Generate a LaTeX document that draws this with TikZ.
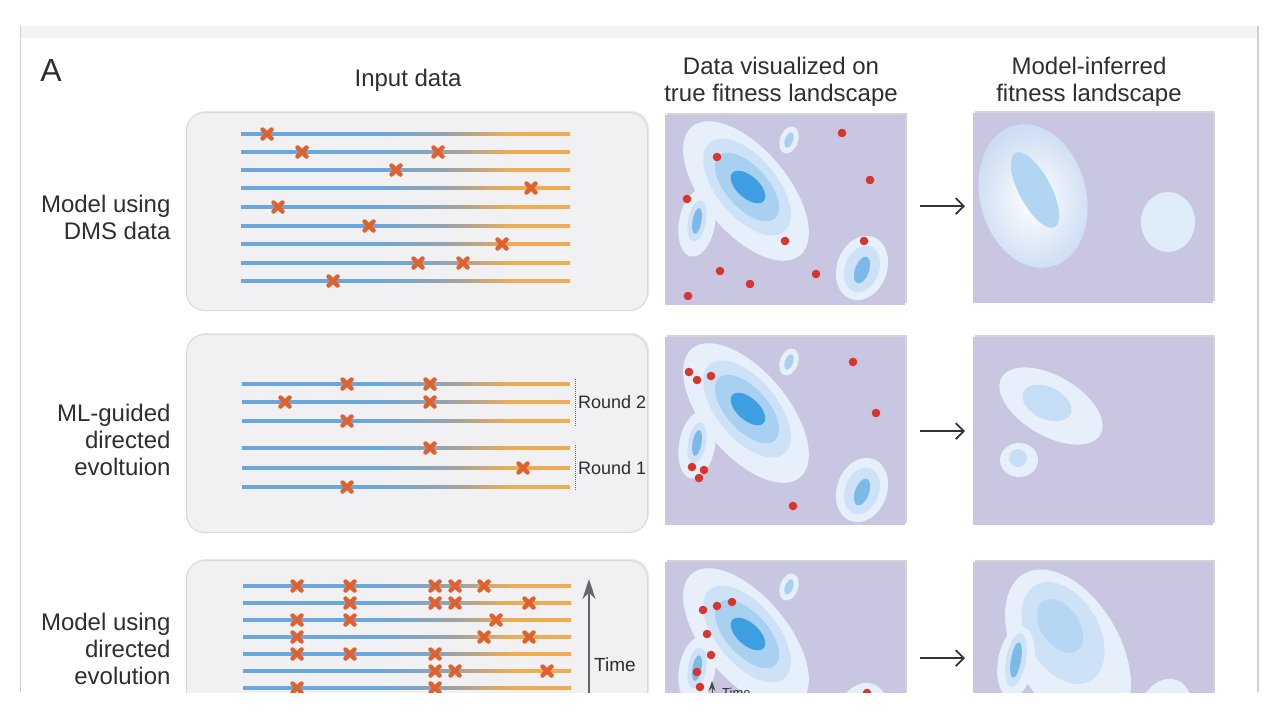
\documentclass[tikz,border=0pt]{standalone}
\usepackage{fontspec}
\setmainfont{Liberation Sans}
\usepackage{xcolor}
\usepackage{tikz}
\usetikzlibrary{arrows.meta, shadows}

\definecolor{inkgray}{HTML}{2E2E2E}
\definecolor{cardline}{HTML}{D0D0D0}
\definecolor{cardband}{HTML}{F3F3F3}
\definecolor{boxfill}{HTML}{F1F1F3}
\definecolor{lavender}{HTML}{C9C6E2}
\definecolor{seqblue}{HTML}{6AA7DC}
\definecolor{seqgray}{HTML}{9BA3A5}
\definecolor{seqorange}{HTML}{EEAD52}
\definecolor{mutred}{HTML}{E0602E}
\definecolor{dotred}{HTML}{D6362D}
\definecolor{hill0}{HTML}{E7F0FA}
\definecolor{hill1}{HTML}{CDE2F6}
\definecolor{hill2}{HTML}{A8D0F1}
\definecolor{hill3}{HTML}{3E9EE2}
\definecolor{hillcore}{HTML}{7DB9E8}

\pgfdeclarehorizontalshading{seqline}{100bp}{color(0bp)=(seqblue); color(25bp)=(seqblue); color(46bp)=(seqblue); color(57bp)=(seqgray); color(66bp)=(seqorange); color(75bp)=(seqorange); color(100bp)=(seqorange)}

\begin{document}
\begin{tikzpicture}[x=1pt, y=-1pt,
    inkfont/.style={font=\fontsize{24}{27}\selectfont, text=inkgray},
    title/.style={inkfont, align=center},
    rowlabel/.style={inkfont, align=right, anchor=east},
    small/.style={font=\fontsize{18}{20}\selectfont, text=inkgray, anchor=west, inner sep=0pt},
    inputbox/.style={rectangle, rounded corners=18pt, fill=boxfill, draw=black!15, line width=1pt, anchor=north west, minimum width=461pt, inner sep=0pt, drop shadow={shadow xshift=1.5pt, shadow yshift=1.5pt, opacity=.18}},
    scape/.style={rectangle, fill=lavender, anchor=north west, minimum width=240pt, inner sep=0pt, drop shadow={shadow xshift=2pt, shadow yshift=2.5pt, opacity=.35}},
    seq/.style={shading=seqline},
    mutline/.style={draw=mutred, line width=4.5pt, line cap=round},
    mut/.pic={\draw[mutline] (-4.5,-4.5) -- (4.5,4.5) (-4.5,4.5) -- (4.5,-4.5);},
    flow/.style={draw=black!80, line width=1.8pt, -{Straight Barb[length=8pt, width=16pt]}, shorten <=15pt, shorten >=8pt},
    landscape/.pic={
        \fill[hill0, shift={(81,76)}, rotate=-50] (0,0) ellipse [x radius=84, y radius=42];
        \fill[hill1, shift={(82,72)}, rotate=-50] (0,0) ellipse [x radius=58, y radius=30];
        \fill[hill2, shift={(82,72)}, rotate=-48] (0,0) ellipse [x radius=42, y radius=21];
        \fill[hill3, shift={(83,72)}, rotate=-42] (0,0) ellipse [x radius=21, y radius=11];
        \fill[hill0, shift={(124,25)}, rotate=70] (0,0) ellipse [x radius=14, y radius=9];
        \fill[hill2, shift={(124,25)}, rotate=70] (0,0) ellipse [x radius=8, y radius=4];
        \fill[hill0, shift={(32,108)}, rotate=-10] (0,0) ellipse [x radius=18, y radius=34];
        \fill[hill1, shift={(32,106)}, rotate=-10] (0,0) ellipse [x radius=9, y radius=21];
        \fill[hillcore, shift={(32,106)}, rotate=-10] (0,0) ellipse [x radius=4.5, y radius=13];
        \fill[hill0, shift={(197,153)}, rotate=-20] (0,0) ellipse [x radius=25, y radius=33];
        \fill[hill1, shift={(197,154)}, rotate=-20] (0,0) ellipse [x radius=17, y radius=24];
        \fill[hillcore, shift={(197,155)}, rotate=-20] (0,0) ellipse [x radius=7, y radius=14];
    }
]
    \useasboundingbox (0,0) rectangle (1280,720);
    \begin{scope}
    \clip (0,0) rectangle (1280,692);

    \fill[cardband] (21,26) rectangle (1257,38);
    \draw[cardline, line width=1.5pt] (20.5,26) -- (20.5,692);
    \draw[cardline, line width=1.5pt] (1258,26) -- (1258,692);

    \node[inkfont, font=\fontsize{32}{36}\selectfont] (panelA) at (51,70) {A};
    \node[title] (inputhead) at (408,80) {Input data};
    \node[title] (truehead) at (781,82) {Data visualized on\\true fitness landscape};
    \node[title] (inferhead) at (1089,82) {Model-inferred\\fitness landscape};

    \node[rowlabel] (label1) at (174,217) {Model using\\DMS data};
    \node[rowlabel] (label2) at (174,440) {ML-guided\\directed\\evoltuion};
    \node[rowlabel] (label3) at (174,649) {Model using\\directed\\evolution};

    \node[inputbox, minimum height=198pt] (input1) at (186,112) {};
    \node[inputbox, minimum height=198pt] (input2) at (186,334) {};
    \node[inputbox, minimum height=200pt] (input3) at (186,560) {};

    \node[scape, minimum height=190pt] (true1) at (665,115) {};
    \node[scape, minimum height=190pt] (infer1) at (973,113) {};
    \node[scape, minimum height=188pt] (true2) at (665,337) {};
    \node[scape, minimum height=188pt] (infer2) at (973,337) {};
    \node[scape, minimum height=192pt] (true3) at (665,562) {};
    \node[scape, minimum height=192pt] (infer3) at (973,562) {};

    \foreach \y in {134,152,170,188,207,226,244,263,281}
        \shade[seq] (241,\y-1.35) rectangle (570,\y+1.35);
    \foreach \x/\y in {267/134, 302/152, 438/152, 396/170, 531/188, 278/207, 369/226, 502/244, 418/263, 463/263, 333/281}
        \pic at (\x,\y) {mut};

    \foreach \y in {384,402,421,448,468,487}
        \shade[seq] (242,\y-1.35) rectangle (570,\y+1.35);
    \foreach \x/\y in {347/384, 430/384, 285/402, 430/402, 347/421, 430/448, 523/468, 347/487}
        \pic at (\x,\y) {mut};
    \draw[densely dotted, black!60, line width=1pt] (575,379) -- (575,426);
    \draw[densely dotted, black!60, line width=1pt] (575,445) -- (575,491);
    \node[small] (round2) at (578,402) {Round 2};
    \node[small] (round1) at (578,468) {Round 1};

    \foreach \y in {586,603,620,637,654,671,688}
        \shade[seq] (243,\y-1.35) rectangle (571,\y+1.35);
    \foreach \x/\y in {297/586, 350/586, 435/586, 455/586, 484/586,
                       350/603, 435/603, 455/603, 529/603,
                       297/620, 350/620, 496/620,
                       297/637, 484/637, 529/637,
                       297/654, 350/654, 435/654,
                       435/671, 455/671, 547/671,
                       297/688, 435/688}
        \pic at (\x,\y) {mut};
    \coordinate (timestart) at (589,710);
    \coordinate (timeend) at (589,579);
    \draw[draw=black!60, line width=1.5pt, -{Stealth[length=20pt, width=13pt]}] (timestart) -- (timeend);
    \node[small, font=\fontsize{19}{21}\selectfont] (timelabel) at (594,665) {Time};

    \pic at (true1.north west) {landscape};
    \pic at (true2.north west) {landscape};
    \pic at (true3.north west) {landscape};

    \foreach \x/\y in {717/157, 842/133, 870/180, 687/199, 785/241, 864/241, 720/271, 750/284, 816/274, 688/296}
        \fill[dotred] (\x,\y) circle (4.3);
    \foreach \x/\y in {689/372, 697/380, 711/376, 853/362, 876/413, 692/467, 704/470, 699/478, 793/506}
        \fill[dotred] (\x,\y) circle (4.3);
    \foreach \x/\y in {703/610, 717/606, 732/602, 707/634, 711/655, 697/672, 700/687, 867/693}
        \fill[dotred] (\x,\y) circle (4.3);
    \coordinate (minitimestart) at (712,705);
    \coordinate (minitimeend) at (712,681);
    \draw[draw=black!70, line width=1pt, -{Stealth[length=10pt, width=7pt]}] (minitimestart) -- (minitimeend);
    \node[font=\fontsize{13}{14}\selectfont, text=inkgray, anchor=north west, inner sep=0pt] (minitime) at (722,688) {Time};

    \shade[inner color=white, outer color=hill1!80!lavender, shift={(1033,196)}, rotate=15] (0,0) ellipse [x radius=53, y radius=73];
    \fill[hill2!90!white, shift={(1035,190)}, rotate=-62] (0,0) ellipse [x radius=42, y radius=16];
    \fill[hill0!70!hill1] (1168,222) ellipse [x radius=27, y radius=30];

    \fill[hill0, shift={(1051,406)}, rotate=-30] (0,0) ellipse [x radius=57, y radius=30];
    \fill[hill1!80!hill2, shift={(1047,403)}, rotate=-25] (0,0) ellipse [x radius=26, y radius=16];
    \fill[hill0] (1019,460) ellipse [x radius=19, y radius=17];
    \fill[hill1!80!hill2] (1018,458) circle (9);

    \fill[hill0, shift={(1068,650)}, rotate=-60] (0,0) ellipse [x radius=88, y radius=52];
    \fill[hill1, shift={(1063,633)}, rotate=-60] (0,0) ellipse [x radius=55, y radius=36];
    \fill[hill2!85!white, shift={(1060,626)}, rotate=-55] (0,0) ellipse [x radius=30, y radius=19];
    \fill[hill0, shift={(1016,662)}, rotate=-10] (0,0) ellipse [x radius=18, y radius=36];
    \fill[hill1, shift={(1016,660)}, rotate=-10] (0,0) ellipse [x radius=10, y radius=27];
    \fill[hillcore, shift={(1016,660)}, rotate=-10] (0,0) ellipse [x radius=5, y radius=18];
    \fill[hill0, shift={(1165,712)}, rotate=-20] (0,0) ellipse [x radius=26, y radius=34];
    \fill[hill1, shift={(1165,716)}, rotate=-20] (0,0) ellipse [x radius=16, y radius=24];

    \draw[flow] ([yshift=4pt]true1.east) -- ([yshift=4pt]true1.east -| infer1.west);
    \draw[flow] (true2) -- (infer2);
    \draw[flow] (true3) -- (infer3);
    \end{scope}
\end{tikzpicture}
\end{document}
